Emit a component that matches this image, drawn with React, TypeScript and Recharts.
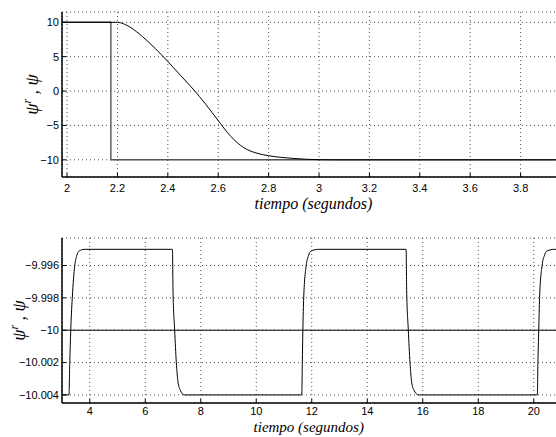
import { LineChart, Line, XAxis, YAxis, CartesianGrid } from 'recharts';

// panel 1: step of the reference at ~2.17 s and the response
const refTopT = [1.98, 2.174, 2.174, 4.0];
const refTopV = [10, 10, -10, -10];
const psiTopT = [1.98, 2.2, 2.25, 2.3, 2.35, 2.4, 2.45, 2.5, 2.55, 2.6, 2.65, 2.7, 2.75, 2.8, 2.85, 2.9, 2.95, 3.0, 3.05, 4.0];
const psiTopV = [10, 10, 9.3, 7.9, 6.2, 4.3, 2.3, 0.3, -1.9, -4.3, -6.6, -8.2, -9.0, -9.4, -9.65, -9.8, -9.92, -9.98, -10, -10];
const topXTicks = [2, 2.2, 2.4, 2.6, 2.8, 3, 3.2, 3.4, 3.6, 3.8];
const topYTicks = [-10, -5, 0, 5, 10];

// panel 2: zoom around -10
const refBotT = [3, 21];
const refBotV = [-10, -10];
const psiBotT = [
  3.0, 3.25, 3.28, 3.315, 3.37, 3.46, 3.53, 3.62, 3.8,
  6.98, 7.0, 7.06, 7.12, 7.18, 7.26, 7.4,
  11.64, 11.66, 11.68, 11.71, 11.8, 11.88, 11.98, 12.25,
  15.4, 15.42, 15.48, 15.54, 15.6, 15.68, 15.85,
  20.13, 20.15, 20.18, 20.21, 20.3, 20.38, 20.48, 20.75, 21,
];
const psiBotV = [
  -10.004, -10.004, -10.002, -10.0, -9.998, -9.996, -9.9954, -9.9951, -9.995,
  -9.995, -9.9975, -10.0, -10.002, -10.0032, -10.0037, -10.004,
  -10.004, -10.002, -10.0, -9.998, -9.996, -9.9954, -9.9951, -9.995,
  -9.995, -9.9975, -10.0, -10.002, -10.0032, -10.0037, -10.004,
  -10.004, -10.002, -10.0, -9.998, -9.996, -9.9954, -9.9951, -9.995, -9.995,
];
const botXTicks = [4, 6, 8, 10, 12, 14, 16, 18, 20];
const botYTicks = [-10.004, -10.002, -10, -9.998, -9.996];

const zip = (t: number[], v: number[]) => t.map((x, i) => ({ t: x, v: v[i] }));

const tickFont = { fontFamily: 'Liberation Sans, Arial, sans-serif', fontSize: 11, fill: '#000' };
const fmt = (d: number) => (v: number) => String(Number(v.toFixed(d))).replace('-', '\u2212');

const YLabel = ({ viewBox, base }: any) => {
  const cy = viewBox.y + viewBox.height / 2;
  return (
    <text
      transform={`translate(${base},${cy}) rotate(-90)`}
      textAnchor="middle"
      fontFamily="Liberation Serif, Times New Roman, serif"
      fontStyle="italic"
      fontSize={18}
      fill="#000"
    >
      ψ<tspan dy={-7} fontSize={12}>r</tspan>
      <tspan dy={7}> , ψ</tspan>
    </text>
  );
};

const XLabel = ({ viewBox, dy, size }: any) => (
  <text
    x={viewBox.x + viewBox.width / 2 - 3}
    y={viewBox.y + dy}
    textAnchor="middle"
    fontFamily="Liberation Serif, Times New Roman, serif"
    fontStyle="italic"
    fontSize={size}
    fill="#000"
  >
    tiempo (segundos)
  </text>
);

export default function App() {
  return (
    <div style={{ position: 'absolute', left: 0, top: 0, width: 556, height: 437, overflow: 'hidden', background: '#fff' }}>
      <div style={{ position: 'absolute', left: 0, top: 0 }}>
        <LineChart width={620} height={220} margin={{ top: 12, right: 49, bottom: 23, left: 0 }}>
          <CartesianGrid stroke="#222" strokeDasharray="1 3" strokeWidth={0.8} />
          <XAxis
            dataKey="t"
            type="number"
            domain={[1.98, 4]}
            ticks={topXTicks}
            tickFormatter={fmt(1)}
            allowDuplicatedCategory={false}
            height={20}
            tickSize={-4}
            tickMargin={11}
            tick={tickFont}
            axisLine={{ stroke: '#000', strokeWidth: 1.5 }}
            tickLine={{ stroke: '#000' }}
            label={{ content: <XLabel dy={32} size={16} /> }}
          />
          <XAxis
            xAxisId="top"
            orientation="top"
            type="number"
            domain={[1.98, 4]}
            ticks={topXTicks}
            height={0}
            tickSize={-4}
            tick={false}
            axisLine={{ stroke: '#000' }}
            tickLine={{ stroke: '#000' }}
          />
          <YAxis
            type="number"
            domain={[-12.5, 11.5]}
            ticks={topYTicks}
            tickFormatter={fmt(0)}
            width={62}
            tickSize={-4}
            tickMargin={7}
            tick={tickFont}
            axisLine={{ stroke: '#000', strokeWidth: 1.5 }}
            tickLine={{ stroke: '#000' }}
            label={{ content: <YLabel base={38} /> }}
          />
          <Line data={zip(refTopT, refTopV)} dataKey="v" type="linear" stroke="#555" strokeWidth={1.4} dot={false} isAnimationActive={false} />
          <Line data={zip(psiTopT, psiTopV)} dataKey="v" type="monotone" stroke="#000" strokeWidth={1} dot={false} isAnimationActive={false} />
        </LineChart>
      </div>
      <div style={{ position: 'absolute', left: 0, top: 220 }}>
        <LineChart width={620} height={217} margin={{ top: 18, right: 58.5, bottom: 14, left: 0 }}>
          <CartesianGrid stroke="#222" strokeDasharray="1 3" strokeWidth={0.8} />
          <XAxis
            dataKey="t"
            type="number"
            domain={[3, 21]}
            ticks={botXTicks}
            tickFormatter={fmt(0)}
            allowDuplicatedCategory={false}
            height={20}
            tickSize={-4}
            tickMargin={8}
            tick={tickFont}
            axisLine={{ stroke: '#000', strokeWidth: 1.5 }}
            tickLine={{ stroke: '#000' }}
            label={{ content: <XLabel dy={29} size={15} /> }}
          />
          <XAxis
            xAxisId="top"
            orientation="top"
            type="number"
            domain={[3, 21]}
            ticks={botXTicks}
            height={0}
            tickSize={-4}
            tick={false}
            axisLine={{ stroke: '#000' }}
            tickLine={{ stroke: '#000' }}
          />
          <YAxis
            type="number"
            domain={[-10.0045, -9.9943]}
            ticks={botYTicks}
            tickFormatter={fmt(3)}
            allowDataOverflow
            width={62}
            tickSize={-4}
            tickMargin={7}
            tick={tickFont}
            axisLine={{ stroke: '#000', strokeWidth: 1.5 }}
            tickLine={{ stroke: '#000' }}
            label={{ content: <YLabel base={25} /> }}
          />
          <Line data={zip(refBotT, refBotV)} dataKey="v" type="linear" stroke="#000" strokeWidth={1} dot={false} isAnimationActive={false} />
          <Line data={zip(psiBotT, psiBotV)} dataKey="v" type="monotone" stroke="#000" strokeWidth={1} dot={false} isAnimationActive={false} />
        </LineChart>
      </div>
    </div>
  );
}
